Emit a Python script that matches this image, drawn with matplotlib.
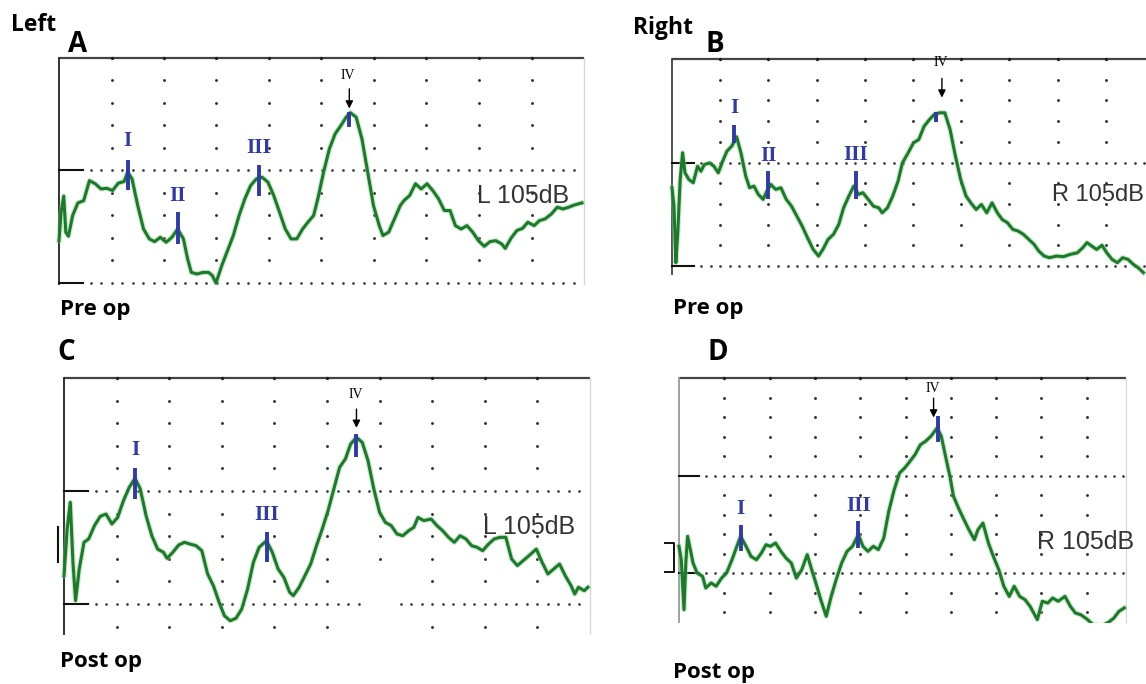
import matplotlib
matplotlib.use('Agg')
import matplotlib.pyplot as plt
import numpy as np

# ---- traces in grid units (x: divisions, y: divisions above lower dotted line)
a_x = [0.0, 0.04, 0.09, 0.13, 0.18, 0.26, 0.36, 0.47, 0.58, 0.69, 0.80, 0.91, 1.02, 1.13, 1.24, 1.31, 1.39,
       1.50, 1.61, 1.72, 1.82, 1.93, 2.04, 2.15, 2.26, 2.37, 2.45, 2.52, 2.63, 2.74, 2.85, 2.92, 2.99, 3.10,
       3.21, 3.32, 3.43, 3.54, 3.65, 3.76, 3.87, 3.98, 4.09, 4.20, 4.31, 4.42, 4.53, 4.64, 4.74, 4.85, 4.93,
       5.04, 5.15, 5.26, 5.37, 5.47, 5.55, 5.66, 5.77, 5.88, 5.99, 6.10, 6.17, 6.28, 6.39, 6.50, 6.57, 6.68,
       6.79, 6.90, 7.01, 7.12, 7.23, 7.34, 7.45, 7.55, 7.66, 7.77, 7.88, 7.99, 8.10, 8.21, 8.32, 8.43, 8.50,
       8.61, 8.72, 8.83, 8.93, 9.05, 9.15, 9.26, 9.38, 9.49, 9.60, 9.71, 9.82, 9.96]
a_y = [1.88, 3.15, 3.86, 2.25, 2.08, 3.0, 3.56, 3.66, 4.55, 4.41, 4.18, 4.21, 4.11, 4.44, 4.51, 4.93, 4.63,
       3.44, 2.40, 1.96, 1.84, 2.03, 1.81, 2.03, 2.40, 1.96, 1.07, 0.47, 0.40, 0.47, 0.47, 0.33, 0.0, 0.77,
       1.44, 2.11, 3.0, 3.74, 4.33, 4.63, 4.70, 4.48, 3.89, 3.15, 2.40, 1.96, 1.96, 2.40, 2.70, 3.0, 3.74,
       4.93, 5.96, 6.63, 7.00, 7.37, 7.57, 7.37, 6.41, 4.93, 3.44, 2.55, 2.11, 2.26, 2.85, 3.44, 3.66, 3.89,
       4.41, 4.18, 4.41, 4.11, 3.74, 3.22, 3.22, 2.55, 2.40, 2.55, 2.26, 1.88, 1.63, 1.84, 1.88, 1.74, 1.54,
       1.99, 2.33, 2.43, 2.70, 2.55, 2.77, 2.85, 3.07, 3.37, 3.29, 3.37, 3.47, 3.56]

b_x = [0.0, 0.04, 0.08, 0.12, 0.17, 0.22, 0.27, 0.35, 0.44, 0.53, 0.60, 0.67, 0.78, 0.87, 0.96, 1.05, 1.14,
       1.24, 1.34, 1.43, 1.53, 1.61, 1.70, 1.79, 1.89, 1.97, 2.05, 2.15, 2.26, 2.37, 2.48, 2.59, 2.70, 2.81,
       2.93, 3.04, 3.13, 3.24, 3.35, 3.46, 3.56, 3.67, 3.77, 3.87, 3.96, 4.07, 4.18, 4.29, 4.36, 4.47, 4.58,
       4.69, 4.78, 4.90, 5.01, 5.12, 5.23, 5.34, 5.44, 5.55, 5.66, 5.77, 5.88, 5.99, 6.10, 6.20, 6.31, 6.42,
       6.53, 6.64, 6.75, 6.85, 6.96, 7.07, 7.18, 7.29, 7.40, 7.51, 7.61, 7.72, 7.83, 7.98, 8.12, 8.26, 8.41,
       8.52, 8.61, 8.71, 8.81, 8.92, 9.02, 9.13, 9.24, 9.35, 9.46, 9.57, 9.67, 9.78]
b_y = [3.78, 2.89, 0.16, 1.61, 4.18, 5.47, 4.50, 4.18, 4.02, 4.82, 4.58, 4.90, 4.98, 4.82, 4.50, 5.06, 5.55,
       5.79, 6.24, 5.47, 4.34, 3.78, 3.86, 3.46, 3.22, 3.62, 3.94, 3.70, 3.78, 3.22, 2.89, 2.41, 1.93, 1.37,
       0.80, 0.48, 0.80, 1.29, 1.53, 2.01, 2.81, 3.38, 3.86, 3.46, 3.54, 3.22, 2.89, 2.81, 2.57, 2.81, 3.38,
       4.10, 4.98, 5.47, 5.95, 6.11, 6.75, 7.07, 7.32, 7.40, 7.40, 6.59, 5.31, 4.18, 3.38, 3.05, 2.73, 2.97,
       2.57, 3.05, 2.57, 2.25, 2.09, 1.77, 1.69, 1.53, 1.29, 1.05, 0.72, 0.48, 0.40, 0.48, 0.45, 0.56, 0.64,
       0.88, 1.13, 0.96, 0.80, 1.00, 0.64, 0.32, 0.16, 0.40, 0.32, 0.08, -0.08, -0.32]

c_x = [0.0, 0.06, 0.12, 0.17, 0.22, 0.29, 0.38, 0.47, 0.58, 0.69, 0.80, 0.91, 1.02, 1.13, 1.24, 1.35, 1.45,
       1.56, 1.67, 1.78, 1.89, 1.96, 2.07, 2.18, 2.29, 2.40, 2.51, 2.62, 2.73, 2.84, 2.95, 3.05, 3.16, 3.27,
       3.38, 3.49, 3.60, 3.71, 3.85, 3.96, 4.07, 4.18, 4.29, 4.36, 4.47, 4.58, 4.69, 4.80, 4.91, 5.02, 5.13,
       5.24, 5.35, 5.45, 5.56, 5.67, 5.78, 5.89, 6.00, 6.11, 6.22, 6.33, 6.44, 6.55, 6.65, 6.73, 6.84, 6.98,
       7.09, 7.20, 7.31, 7.42, 7.53, 7.64, 7.75, 7.85, 7.96, 8.07, 8.18, 8.29, 8.40, 8.51, 8.62, 8.73, 8.84,
       8.98, 9.09, 9.20, 9.31, 9.42, 9.53, 9.64, 9.71, 9.78, 9.89, 9.96]
c_y = [1.25, 3.32, 4.5, 1.84, 0.15, 1.55, 2.73, 2.88, 3.47, 3.88, 3.98, 3.54, 3.83, 4.57, 5.16, 5.56, 5.09,
       3.91, 3.02, 2.43, 2.29, 2.02, 2.29, 2.61, 2.73, 2.65, 2.58, 2.36, 1.33, 0.81, 0.07, -0.52, -0.74, -0.63,
       -0.22, 0.66, 1.84, 2.51, 2.80, 2.29, 1.55, 1.18, 0.52, 0.37, 0.74, 1.25, 1.77, 2.58, 3.32, 4.13, 5.09,
       6.05, 6.42, 7.08, 7.37, 7.15, 6.34, 5.09, 4.06, 3.61, 3.47, 3.10, 3.02, 3.24, 3.39, 3.83, 3.69, 3.76,
       3.47, 3.24, 2.95, 2.73, 3.02, 2.88, 2.58, 2.51, 2.36, 2.65, 2.88, 2.95, 2.95, 1.99, 1.70, 1.92, 2.14,
       2.43, 1.84, 1.33, 1.55, 1.77, 1.25, 0.81, 0.44, 0.74, 0.59, 0.74]

d_x = [0.0, 0.05, 0.11, 0.15, 0.19, 0.25, 0.31, 0.40, 0.52, 0.59, 0.71, 0.82, 0.94, 1.05, 1.17, 1.29, 1.36,
       1.48, 1.59, 1.71, 1.82, 1.92, 2.02, 2.13, 2.25, 2.36, 2.48, 2.59, 2.71, 2.83, 2.93, 3.02, 3.13, 3.25,
       3.36, 3.48, 3.59, 3.71, 3.83, 3.96, 4.06, 4.17, 4.29, 4.40, 4.52, 4.63, 4.75, 4.87, 4.98, 5.10, 5.21,
       5.33, 5.44, 5.56, 5.70, 5.79, 5.90, 5.98, 6.06, 6.17, 6.29, 6.40, 6.52, 6.60, 6.71, 6.83, 6.94, 7.06,
       7.17, 7.29, 7.40, 7.52, 7.64, 7.75, 7.91, 8.02, 8.14, 8.25, 8.37, 8.52, 8.64, 8.75, 8.87, 9.02, 9.14,
       9.33, 9.48, 9.60, 9.71, 9.83]
d_y = [1.37, 0.68, -1.88, 0.51, 1.88, 1.20, 0.51, 0.0, -0.17, -0.77, -0.51, -0.68, -0.26, 0.0, 0.68, 1.45,
       1.88, 1.37, 0.85, 0.68, 1.03, 1.45, 1.37, 1.54, 1.11, 0.77, 0.51, -0.26, 0.17, 0.94, 0.17, -0.51,
       -1.37, -2.22, -1.20, -0.26, 0.51, 1.11, 1.37, 1.97, 1.37, 1.11, 1.37, 1.20, 1.79, 3.16, 4.27, 5.13,
       5.38, 5.73, 6.07, 6.58, 6.75, 7.01, 7.44, 7.01, 5.81, 4.96, 3.93, 3.33, 2.74, 2.22, 1.71, 2.22, 2.56,
       1.54, 0.85, 0.17, -0.68, -1.20, -0.68, -1.20, -1.37, -1.71, -2.39, -1.45, -1.54, -1.28, -1.45, -1.20,
       -1.71, -2.05, -2.14, -2.39, -2.65, -2.70, -2.53, -2.31, -1.97, -1.79]

# wave markers: (x, tick top, tick bottom, label, label y)
a_marks = [(1.31, 5.47, 4.15, 'I', 6.29), (2.26, 3.15, 1.74, 'II', 3.86), (3.81, 5.25, 3.86, 'III', 6.0)]
b_marks = [(1.29, 6.83, 5.92, 'I', 7.62), (2.0, 4.58, 3.22, 'II', 5.31), (3.82, 4.61, 3.22, 'III', 5.34)]
c_marks = [(1.35, 6.0, 4.65, 'I', 6.81), (3.85, 3.2, 1.84, 'III', 3.95)]
d_marks = [(1.36, 2.48, 1.11, 'I', 3.28), (3.96, 2.65, 1.28, 'III', 3.42)]

# wave IV: (arrow x, label y, arrow top, arrow tip, tick x, tick top, tick bottom)
a_iv = (5.53, 9.21, 8.75, 7.63, 5.53, 7.60, 6.93)
b_iv = (5.60, 9.84, 9.20, 8.00, 5.48, 7.43, 6.95)
c_iv = (5.56, 9.25, 8.75, 7.67, 5.56, 7.52, 6.52)
d_iv = (5.62, 9.47, 9.11, 7.83, 5.71, 8.07, 6.70)

W, H = 1146, 684
fig = plt.figure(figsize=(W / 100, H / 100), dpi=100)

GREEN = '#1c7a2b'
BLUE = '#2f3aa8'
SERIF = ['Liberation Serif', 'DejaVu Serif']
SANS = ['Open Sans', 'DejaVu Sans']


def make_axes(x0, ytop, dx, dy, xlo, xhi, ylo, yhi):
    # x0 / ytop are the pixel positions of grid x=0 and y=10
    left = x0 + xlo * dx
    right = x0 + xhi * dx
    top = ytop + (10 - yhi) * dy
    bottom = ytop + (10 - ylo) * dy
    ax = fig.add_axes([left / W, 1 - bottom / H, (right - left) / W, (bottom - top) / H])
    ax.set_xlim(xlo, xhi)
    ax.set_ylim(ylo, yhi)
    ax.axis('off')
    return ax


def draw_grid(ax, xmax, ybot, extra_rows=(), left_color='#222', skip=(), gap=None):
    ax.plot([0, xmax], [10, 10], color='#444', lw=1.6, solid_capstyle='butt')
    ax.plot([0, 0], [10, ybot], color=left_color, lw=1.3)
    ax.plot([xmax, xmax], [10, ybot], color='#d8d8d8', lw=1.0)
    cols = [c for c in range(1, 10) if c < xmax]
    rows = [9, 8, 7, 6, 4, 3, 2, 1] + list(extra_rows)
    for r in rows:
        xs = [c for c in cols if (c, r) not in skip]
        ax.plot(xs, [r] * len(xs), ls='none', marker='o', ms=2.1, color='#333', mec='none')
    ax.plot(cols, [10] * len(cols), ls='none', marker='o', ms=2.4, color='#222', mec='none')
    for yl in (5, 0):
        xs = np.arange(0.6, xmax, 0.2)
        if gap is not None and yl == 0:
            xs = xs[(xs < gap[0]) | (xs > gap[1])]
        ax.plot(xs, [yl] * len(xs), ls='none', marker='o', ms=1.9, color='#333', mec='none')
        ax.plot([0, 0.45], [yl, yl], color='#111', lw=1.5)


def draw_trace(ax, xs, ys):
    ax.plot(xs, ys, color='#8fcf8f', lw=3.8, alpha=0.45, solid_joinstyle='round')
    ax.plot(xs, ys, color=GREEN, lw=2.2, solid_joinstyle='round')


def draw_marks(ax, marks, iv):
    for x, yt, yb, lab, ly in marks:
        ax.plot([x, x], [yb, yt], color=BLUE, lw=2.8, solid_capstyle='butt')
        ax.text(x, ly, lab, color=BLUE, fontsize=15, fontweight='bold', family=SERIF,
                ha='center', va='center')
    ax_x, ly, atop, atip, tx, ttop, tbot = iv
    ax.plot([tx, tx], [tbot, ttop], color=BLUE, lw=2.8, solid_capstyle='butt')
    ax.annotate('', xy=(ax_x, atip), xytext=(ax_x, atop),
                arrowprops=dict(arrowstyle='-|>', color='black', lw=1.0, mutation_scale=11))
    ax.text(ax_x - 0.02, ly, 'IV', color='black', fontsize=10, family=SERIF, ha='center', va='center')


def level_text(ax, x, y, s, size=18):
    ax.text(x, y, s, color='#333', fontsize=size, family=['Liberation Sans', 'DejaVu Sans'],
            ha='left', va='center')


# ---- A: left pre op
ax_a = make_axes(59, 58, 52.5, 22.5, -0.5, 10.05, -0.4, 10.3)
draw_grid(ax_a, 10, -0.03)
draw_trace(ax_a, a_x, a_y)
draw_marks(ax_a, a_marks, a_iv)
level_text(ax_a, 7.96, 3.85, 'L 105dB')

# ---- B: right pre op (runs off the right edge)
ax_b = make_axes(672, 59, 48.2, 20.7, -0.5, 10.05, -0.6, 10.3)
draw_grid(ax_b, 10, -0.4, left_color='#444')
draw_trace(ax_b, b_x, b_y)
draw_marks(ax_b, b_marks, b_iv)
level_text(ax_b, 7.88, 3.42, 'R 105dB', size=17)

# ---- C: left post op
ax_c = make_axes(64, 378, 52.6, 22.6, -0.5, 10.05, -1.5, 10.3)
draw_grid(ax_c, 10, -1.33, extra_rows=(-1,), skip=((6, 1), (6, -1)), gap=(5.64, 6.38))
ax_c.plot([-0.11, -0.11], [1.86, 3.4], color='#111', lw=1.5)
draw_trace(ax_c, c_x, c_y)
draw_marks(ax_c, c_marks, c_iv)
level_text(ax_c, 7.96, 3.4, 'L 105dB')

# ---- D: right post op
ax_d = make_axes(679, 378, 45.3, 19.5, -0.5, 9.9, -2.55, 10.3)
draw_grid(ax_d, 9.87, -2.56, extra_rows=(-1, -2), left_color='#999')
ax_d.plot([-0.31, -0.11, -0.11, -0.31], [1.54, 1.54, 0.05, 0.05], color='#111', lw=1.4)
draw_trace(ax_d, d_x, d_y)
draw_marks(ax_d, d_marks, d_iv)
level_text(ax_d, 7.91, 1.6, 'R 105dB')

# ---- panel labels
def fig_text(x, y, s, size):
    fig.text(x / W, 1 - y / H, s, fontsize=size, fontweight='bold', family=SANS,
             ha='left', va='baseline', color='black')

fig_text(11, 31, 'Left', 16.5)
fig_text(68, 52, 'A', 20)
fig_text(60, 315, 'Pre op', 16)
fig_text(633, 34, 'Right', 16.5)
fig_text(706, 52, 'B', 20)
fig_text(673, 314, 'Pre op', 16)
fig_text(57, 360, 'C', 20)
fig_text(60, 667, 'Post op', 16)
fig_text(707, 360, 'D', 20)
fig_text(673, 678, 'Post op', 16)

fig.savefig('out.png', dpi=100, facecolor='white')
